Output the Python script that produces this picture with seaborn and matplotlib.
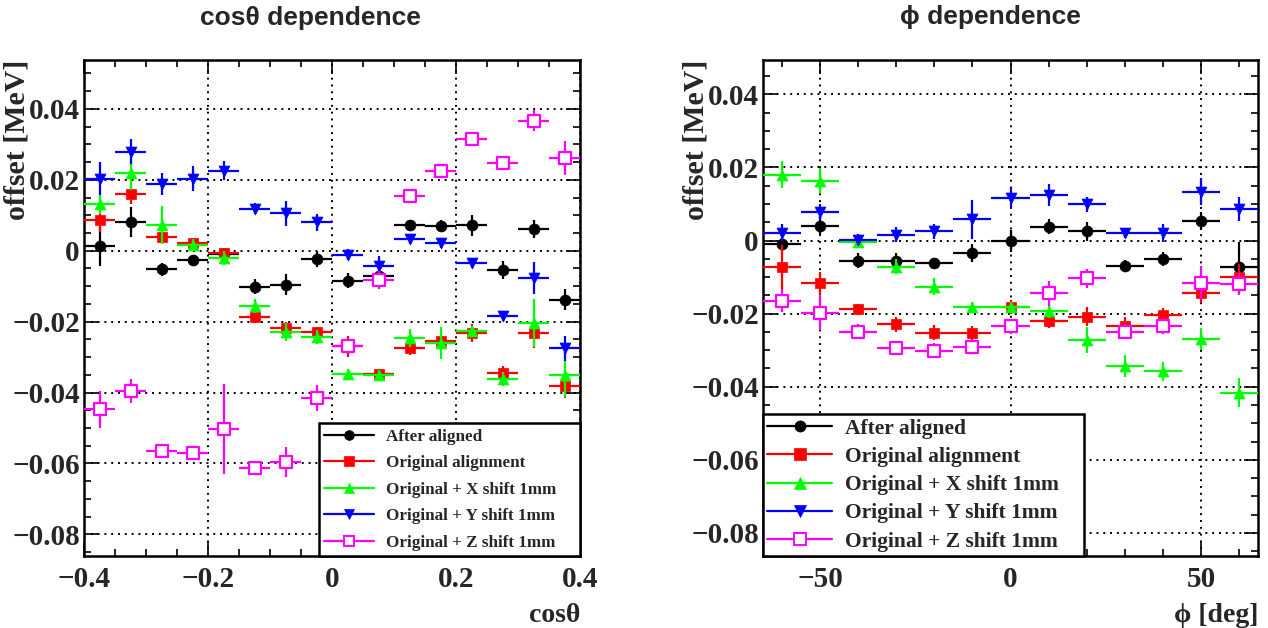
import numpy as np
import pandas as pd
import matplotlib
matplotlib.use("Agg")
import matplotlib.pyplot as plt
import seaborn as sns
from matplotlib.lines import Line2D
from matplotlib.ticker import MultipleLocator, FuncFormatter

# ---------------- data ----------------
cos_centers = [-0.375, -0.325, -0.275, -0.225, -0.175, -0.125, -0.075, -0.025,
               0.025, 0.075, 0.125, 0.175, 0.225, 0.275, 0.325, 0.375]
cos_halfwidth = 0.025

after_cos = [0.0012, 0.0081, -0.0052, -0.0027, -0.0010, -0.0101, -0.0096, -0.0024,
             -0.0084, -0.0071, 0.0072, 0.0071, 0.0072, -0.0055, 0.0062, -0.0138]
after_cos_err = [0.0056, 0.0042, 0.0018, 0.0015, 0.0015, 0.0020, 0.0030, 0.0022,
                 0.0020, 0.0025, 0.0015, 0.0015, 0.0030, 0.0025, 0.0025, 0.0030]
orig_cos = [0.0088, 0.0161, 0.0040, 0.0022, -0.0007, -0.0186, -0.0217, -0.0230,
            -0.0270, -0.0348, -0.0273, -0.0254, -0.0233, -0.0346, -0.0233, -0.0381]
orig_cos_err = [0.0035, 0.0030, 0.0020, 0.0015, 0.0015, 0.0015, 0.0015, 0.0015,
                0.0030, 0.0015, 0.0020, 0.0020, 0.0025, 0.0020, 0.0040, 0.0035]
xs_cos = [0.0133, 0.0219, 0.0073, 0.0017, -0.0021, -0.0155, -0.0230, -0.0244,
          -0.0348, -0.0350, -0.0247, -0.0259, -0.0226, -0.0362, -0.0203, -0.0350]
xs_cos_err = [0.0030, 0.0047, 0.0054, 0.0015, 0.0020, 0.0020, 0.0025, 0.0020,
              0.0015, 0.0015, 0.0025, 0.0045, 0.0015, 0.0020, 0.0068, 0.0063]
ys_cos = [0.0203, 0.0279, 0.0188, 0.0203, 0.0226, 0.0119, 0.0106, 0.0080,
          -0.0011, -0.0044, 0.0033, 0.0022, -0.0035, -0.0184, -0.0077, -0.0275]
ys_cos_err = [0.0047, 0.0035, 0.0030, 0.0035, 0.0026, 0.0015, 0.0035, 0.0025,
              0.0015, 0.0030, 0.0015, 0.0015, 0.0015, 0.0015, 0.0045, 0.0035]
zs_cos = [-0.0447, -0.0395, -0.0565, -0.0570, -0.0503, -0.0614, -0.0595, -0.0416,
          -0.0268, -0.0082, 0.0153, 0.0226, 0.0316, 0.0248, 0.0367, 0.0262]
zs_cos_err = [0.0052, 0.0034, 0.0020, 0.0020, 0.0126, 0.0018, 0.0042, 0.0036,
              0.0015, 0.0025, 0.0015, 0.0015, 0.0015, 0.0015, 0.0030, 0.0047]

phi_centers = [-60, -50, -40, -30, -20, -10, 0, 10, 20, 30, 40, 50, 60]
phi_halfwidth = 5

after_phi = [-0.0009, 0.0041, -0.0055, -0.0055, -0.0062, -0.0035, 0.0000,
             0.0038, 0.0025, -0.0069, -0.0050, 0.0054, -0.0073]
after_phi_err = [0.0020, 0.0025, 0.0020, 0.0020, 0.0015, 0.0025, 0.0030,
                 0.0020, 0.0025, 0.0015, 0.0020, 0.0025, 0.0070]
orig_phi = [-0.0073, -0.0117, -0.0188, -0.0229, -0.0252, -0.0254, -0.0182,
            -0.0219, -0.0208, -0.0235, -0.0205, -0.0144, -0.0100]
orig_phi_err = [0.0060, 0.0032, 0.0015, 0.0020, 0.0020, 0.0020, 0.0020,
                0.0020, 0.0025, 0.0025, 0.0020, 0.0027, 0.0037]
xs_phi = [0.0180, 0.0164, -0.0003, -0.0071, -0.0126, -0.0182, -0.0182,
          -0.0192, -0.0272, -0.0343, -0.0358, -0.0270, -0.0416]
xs_phi_err = [0.0037, 0.0034, 0.0015, 0.0020, 0.0023, 0.0015, 0.0015,
              0.0020, 0.0035, 0.0030, 0.0025, 0.0030, 0.0040]
ys_phi = [0.0022, 0.0079, 0.0002, 0.0016, 0.0025, 0.0058, 0.0116,
          0.0125, 0.0099, 0.0020, 0.0020, 0.0134, 0.0086]
ys_phi_err = [0.0022, 0.0022, 0.0015, 0.0020, 0.0020, 0.0053, 0.0027,
              0.0030, 0.0020, 0.0012, 0.0025, 0.0038, 0.0032]
zs_phi = [-0.0164, -0.0197, -0.0249, -0.0295, -0.0301, -0.0290, -0.0235,
          -0.0144, -0.0103, -0.0249, -0.0235, -0.0115, -0.0119]
zs_phi_err = [0.0031, 0.0045, 0.0020, 0.0015, 0.0020, 0.0015, 0.0020,
              0.0034, 0.0026, 0.0020, 0.0020, 0.0045, 0.0030]

series_labels = ["After aligned", "Original alignment", "Original + X shift 1mm",
                 "Original + Y shift 1mm", "Original + Z shift 1mm"]
series_colors = ["#000000", "#ff0000", "#00ff00", "#0000ff", "#ff00ff"]
series_markers = ["o", "s", "^", "v", "s"]
series_filled = [True, True, True, True, False]

titles = ["cos\u03b8 dependence", "\u03d5 dependence"]
xlabels = ["cos\u03b8", "\u03d5 [deg]"]
ylabel = "offset [MeV]"

# ---------------- style ----------------
sns.set_theme(style="ticks")
plt.rcParams["font.family"] = ["Liberation Serif", "DejaVu Serif"]
plt.rcParams["axes.unicode_minus"] = True

SERIF = ["Liberation Serif", "DejaVu Serif"]
SANS = ["Liberation Sans", "DejaVu Sans"]

fig = plt.figure(figsize=(12.68, 6.28), dpi=100)
W, H = 1268, 628
axL = fig.add_axes([84 / W, (H - 556) / H, 496 / W, 496 / H])
axR = fig.add_axes([763 / W, (H - 556) / H, 495 / W, 496 / H])


def fmt(v, pos):
    if abs(v) < 1e-12:
        return "0"
    s = f"{v:g}"
    return s.replace("-", "\u2212")


def draw(ax, centers, halfw, data, errs):
    for i in range(5):
        c = series_colors[i]
        ax.errorbar(centers, data[i], xerr=halfw, yerr=errs[i], fmt="none",
                    ecolor=c, elinewidth=1.6, capsize=0, zorder=2 + i)
        df = pd.DataFrame({"x": centers, "y": data[i]})
        if series_filled[i]:
            sns.scatterplot(data=df, x="x", y="y", ax=ax, marker=series_markers[i],
                            color=c, edgecolor=c, s=62, linewidth=0.5,
                            zorder=3 + i, legend=False)
        else:
            sns.scatterplot(data=df, x="x", y="y", ax=ax, marker=series_markers[i],
                            facecolor="white", edgecolor=c, s=70, linewidth=1.6,
                            zorder=3 + i, legend=False)


def style_axes(ax, xlim, ylim, xmaj, xmin):
    ax.set_xlim(*xlim)
    ax.set_ylim(*ylim)
    ax.xaxis.set_major_locator(MultipleLocator(xmaj))
    ax.xaxis.set_minor_locator(MultipleLocator(xmin))
    ax.yaxis.set_major_locator(MultipleLocator(0.02))
    ax.yaxis.set_minor_locator(MultipleLocator(0.005))
    ax.xaxis.set_major_formatter(FuncFormatter(fmt))
    ax.yaxis.set_major_formatter(FuncFormatter(fmt))
    ax.tick_params(which="both", direction="in", top=True, right=True,
                   color="black", width=1.2)
    ax.tick_params(which="major", length=10)
    ax.tick_params(which="minor", length=5)
    ax.tick_params(axis="y", which="major", pad=3)
    ax.tick_params(axis="x", which="major", pad=7)
    for lab in ax.get_xticklabels() + ax.get_yticklabels():
        lab.set_fontfamily(SERIF)
        lab.set_fontweight("bold")
        lab.set_fontsize(21)
    for sp in ax.spines.values():
        sp.set_visible(True)
        sp.set_linewidth(1.8)
        sp.set_color("black")
    ax.grid(True, which="major", color="black", linestyle=(0, (1, 2.5)), linewidth=1.4)
    ax.set_axisbelow(True)
    ax.set_facecolor("white")


draw(axL, cos_centers, cos_halfwidth,
     [after_cos, orig_cos, xs_cos, ys_cos, zs_cos],
     [after_cos_err, orig_cos_err, xs_cos_err, ys_cos_err, zs_cos_err])
draw(axR, phi_centers, phi_halfwidth,
     [after_phi, orig_phi, xs_phi, ys_phi, zs_phi],
     [after_phi_err, orig_phi_err, xs_phi_err, ys_phi_err, zs_phi_err])

style_axes(axL, (-0.4, 0.4), (-0.0861, 0.0538), 0.2, 0.05)
style_axes(axR, (-65, 65), (-0.0863, 0.0494), 50, 10)

for ax, xl in zip([axL, axR], xlabels):
    ax.set_xlabel(xl, fontfamily=SERIF, fontweight="bold", fontsize=20)
    ax.xaxis.set_label_coords(1.0, -0.095)
    ax.xaxis.label.set_horizontalalignment("right")
    ax.set_ylabel(ylabel, fontfamily=SERIF, fontweight="bold", fontsize=21.5)
    ax.yaxis.label.set_verticalalignment("center")
    ax.yaxis.label.set_horizontalalignment("right")
    ax.yaxis.set_label_coords(-0.135, 1.0)

# titles
fig.text(310 / W, 1 - 18 / H, titles[0], fontfamily=SANS, fontweight="bold",
         fontsize=19, ha="center", va="center")
fig.text(990 / W, 1 - 17 / H, titles[1], fontfamily=SANS, fontweight="bold",
         fontsize=19, ha="center", va="center")

# legends


def handles(ms):
    hs = []
    for i in range(5):
        c = series_colors[i]
        hs.append(Line2D([0], [0], color=c, lw=1.6, marker=series_markers[i],
                         markersize=ms, markerfacecolor=c if series_filled[i] else "white",
                         markeredgecolor=c, markeredgewidth=1.4 if not series_filled[i] else 0.5))
    return hs


legL = axL.legend(handles(7), series_labels, loc="lower left",
                  bbox_to_anchor=((319 - 84) / 496, 0.0, (580 - 319) / 496, 0.2),
                  mode="expand",
                  borderaxespad=0, frameon=True, fancybox=False, framealpha=1,
                  edgecolor="black", handlelength=2.9, handletextpad=0.7,
                  labelspacing=0.62, borderpad=0.3,
                  prop={"family": SERIF, "weight": "bold", "size": 12.3})
legL.get_frame().set_linewidth(1.8)
legL.set_zorder(20)

legR = axR.legend(handles(8), series_labels, loc="lower left",
                  bbox_to_anchor=(0.0, 0.0, (1084 - 763) / 495, 0.2),
                  mode="expand",
                  borderaxespad=0, frameon=True, fancybox=False, framealpha=1,
                  edgecolor="black", handlelength=3.0, handletextpad=0.6,
                  labelspacing=0.38, borderpad=0.2,
                  prop={"family": SERIF, "weight": "bold", "size": 15.5})
legR.get_frame().set_linewidth(1.8)
legR.set_zorder(20)

fig.savefig("out.png", dpi=100, facecolor="white")
